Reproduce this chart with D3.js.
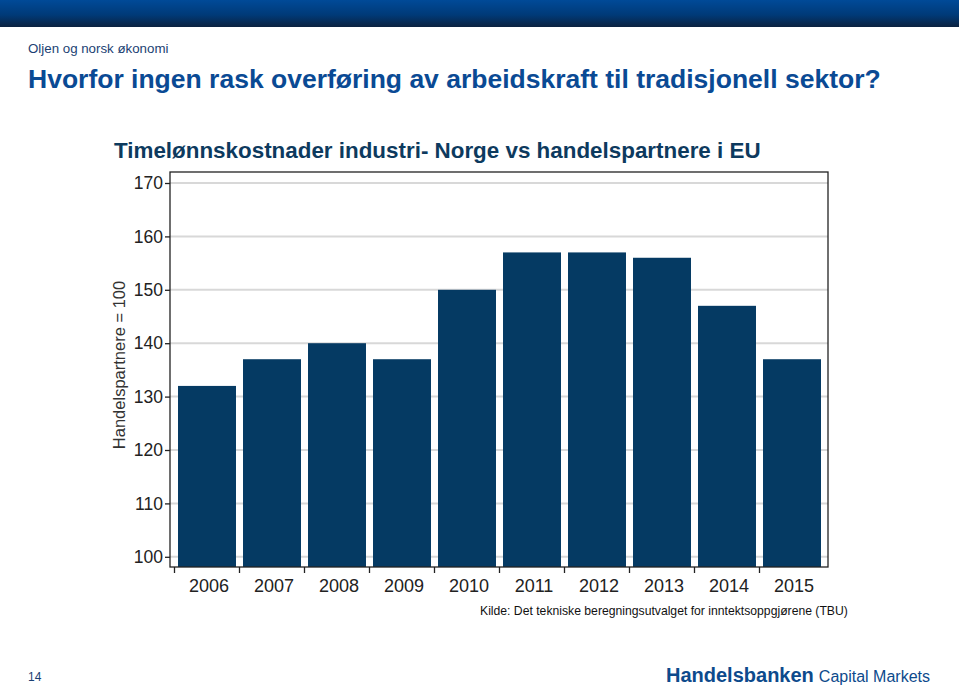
<!DOCTYPE html>
<html><head><meta charset="utf-8">
<script src="https://cdn.jsdelivr.net/npm/d3@7"></script>
<style>body{margin:0;background:#fff}svg{display:block;font-family:Arial,"Liberation Sans",sans-serif}</style>
</head><body><svg id="c" width="959" height="686"></svg>
<script>
const years = ["2006","2007","2008","2009","2010","2011","2012","2013","2014","2015"];
const values = [132,137,140,137,150,157,157,156,147,137];
const yTicks = [100,110,120,130,140,150,160,170];

const svg = d3.select("#c");
const defs = svg.append("defs");
const g = defs.append("linearGradient").attr("id","hdr").attr("x1",0).attr("y1",0).attr("x2",0).attr("y2",1);
g.append("stop").attr("offset","0%").attr("stop-color","#004a98");
g.append("stop").attr("offset","55%").attr("stop-color","#003a78");
g.append("stop").attr("offset","100%").attr("stop-color","#0b2240");
svg.append("rect").attr("x",0).attr("y",0).attr("width",959).attr("height",27).attr("fill","url(#hdr)");

svg.append("text").attr("x",28).attr("y",53).attr("font-size",13.3).attr("fill","#1b3f73").text("Oljen og norsk økonomi");
svg.append("text").attr("x",28).attr("y",88).attr("font-size",26.5).attr("font-weight","bold").attr("fill","#0a4a94")
  .text("Hvorfor ingen rask overføring av arbeidskraft til tradisjonell sektor?");

svg.append("text").attr("x",114).attr("y",158).attr("font-size",22.4).attr("font-weight","bold").attr("fill","#0d3a5e")
  .text("Timelønnskostnader industri- Norge vs handelspartnere i EU");

const frame = {l:170, t:172, r:828, b:567};
const y = d3.scaleLinear().domain([100,170]).range([556.8,183]);
const x = d3.scaleBand().domain(years).range([174.5,824.5]).paddingInner(0.108).paddingOuter(0.054);

// gridlines
svg.append("g").selectAll("line").data(yTicks).join("line")
  .attr("x1",frame.l).attr("x2",frame.r).attr("y1",d=>y(d)).attr("y2",d=>y(d))
  .attr("stroke","#d8d8d8").attr("stroke-width",2);

// bars
svg.append("g").selectAll("rect").data(values).join("rect")
  .attr("x",(d,i)=>x(years[i])).attr("width",x.bandwidth())
  .attr("y",d=>y(d)).attr("height",d=>frame.b-y(d))
  .attr("fill","#053a63");

// frame
svg.append("rect").attr("x",frame.l).attr("y",frame.t).attr("width",frame.r-frame.l).attr("height",frame.b-frame.t)
  .attr("fill","none").attr("stroke","#222").attr("stroke-width",1.3);

// y axis
const ya = d3.axisLeft(y).tickValues(yTicks).tickSize(5).tickPadding(2);
const yg = svg.append("g").attr("transform",`translate(${frame.l},0)`).call(ya);
yg.select(".domain").remove();
yg.selectAll("line").attr("stroke","#222").attr("stroke-width",1.3);
yg.selectAll("text").attr("font-size",17.5).attr("fill","#222").attr("font-family","Arial,'Liberation Sans',sans-serif");

// x axis: ticks at band boundaries
const step = x.step();
const bounds = years.map(d => x(d) - step*x.paddingInner()/2);
svg.append("g").selectAll("line").data(bounds).join("line")
  .attr("x1",d=>d).attr("x2",d=>d).attr("y1",frame.b).attr("y2",frame.b+6)
  .attr("stroke","#222").attr("stroke-width",1.3);
svg.append("g").selectAll("text").data(years).join("text")
  .attr("x",d=>x(d)+x.bandwidth()/2+2).attr("y",592).attr("text-anchor","middle")
  .attr("font-size",18).attr("fill","#222").text(d=>d);

// y label
svg.append("text").attr("transform","translate(125,365) rotate(-90)").attr("text-anchor","middle")
  .attr("font-size",16.5).attr("fill","#333").text("Handelspartnere = 100");

// source
svg.append("text").attr("x",480).attr("y",615).attr("font-size",12.2).attr("fill","#111")
  .text("Kilde: Det tekniske beregningsutvalget for inntektsoppgjørene (TBU)");

svg.append("text").attr("x",28).attr("y",681).attr("font-size",12).attr("fill","#1b3f73").text("14");

const logo = svg.append("text").attr("x",666).attr("y",682).attr("fill","#0d4a8c");
logo.append("tspan").attr("font-size",20).attr("font-weight","bold").text("Handelsbanken");
logo.append("tspan").attr("font-size",16).attr("dx",5).text("Capital Markets");
</script></body></html>
